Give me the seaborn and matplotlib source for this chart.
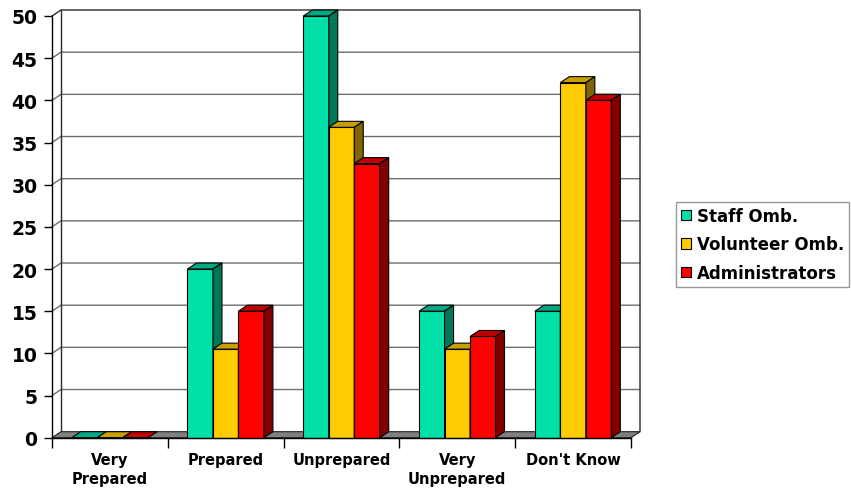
import numpy as np
import pandas as pd
import matplotlib
matplotlib.use("Agg")
import matplotlib.pyplot as plt
from matplotlib.patches import Polygon
from matplotlib.lines import Line2D
import seaborn as sns

# Survey responses (percent of each group)
categories = ["Very\nPrepared", "Prepared", "Unprepared", "Very\nUnprepared", "Don't Know"]
series = ["Staff Omb.", "Volunteer Omb.", "Administrators"]
staff = [0, 20, 50, 15, 15]
volunteer = [0, 10.5, 36.8, 10.5, 42.1]
administrators = [0, 15, 32.5, 12, 40]
y_ticks = list(range(0, 51, 5))

front_colors = ["#00E0A8", "#FFCC00", "#FF0000"]
top_colors = ["#00A884", "#C8A000", "#C00000"]
side_colors = ["#007858", "#806600", "#800000"]

df = pd.DataFrame({
    "category": categories * 3,
    "series": [s for s in series for _ in categories],
    "value": staff + volunteer + administrators,
})

sns.set_theme(style="white")
plt.rcParams["font.family"] = ["DejaVu Sans"]
plt.rcParams["text.color"] = "black"
plt.rcParams["xtick.color"] = "black"
plt.rcParams["ytick.color"] = "black"
plt.rcParams["xtick.labelcolor"] = "black"
plt.rcParams["ytick.labelcolor"] = "black"

W, H = 851, 489
fig = plt.figure(figsize=(W / 100, H / 100), dpi=100)
fig.patch.set_facecolor("white")
left, right, top, bottom = 52, 631, 17, 438.7
ax = fig.add_axes([left / W, 1 - bottom / H, (right - left) / W, (bottom - top) / H])
ax.set_facecolor("none")

sns.barplot(data=df, x="category", y="value", hue="series", order=categories,
            hue_order=series, palette=front_colors, saturation=1, width=0.66,
            edgecolor="black", linewidth=0.8, errorbar=None, ax=ax)

ax.set_xlim(-0.5, 4.5)
ax.set_ylim(0, 50)

# depth offset of the 3-D box, in data units
DX = 9 * 5 / (right - left)
DY = 6 * 50 / (bottom - top)
x_lo, x_hi = -0.5, 4.5

# back wall
ax.add_patch(Polygon([(x_lo + DX, DY), (x_hi + DX, DY), (x_hi + DX, 50 + DY), (x_lo + DX, 50 + DY)],
                     closed=True, facecolor="white", edgecolor="none", zorder=0.2, clip_on=False))
# gridlines on back wall and side wall
for v in y_ticks[1:-1]:
    ax.add_line(Line2D([x_lo, x_lo + DX, x_hi + DX], [v, v + DY, v + DY],
                       color="#6e6e6e", lw=1.0, zorder=0.4, clip_on=False))
# wall outline
ax.add_line(Line2D([x_lo, x_lo + DX, x_hi + DX, x_hi + DX], [50, 50 + DY, 50 + DY, DY],
                   color="#2a2a2a", lw=1.0, zorder=0.5, clip_on=False))
ax.add_line(Line2D([x_lo + DX, x_lo + DX], [DY, 50 + DY],
                   color="#2a2a2a", lw=1.0, zorder=0.5, clip_on=False))
# floor
ax.add_patch(Polygon([(x_lo, 0), (x_hi, 0), (x_hi + DX, DY), (x_lo + DX, DY)],
                     closed=True, facecolor="#808080", edgecolor="#202020", lw=0.8,
                     zorder=0.8, clip_on=False))

# 3-D faces of each bar, drawn left to right
for j, container in enumerate(ax.containers):
    for k, bar in enumerate(container):
        x0, w, h = bar.get_x(), bar.get_width(), bar.get_height()
        z = 2 + k * 10 + j * 3
        bar.set_zorder(z)
        bar.set_clip_on(False)
        ax.add_patch(Polygon([(x0, h), (x0 + w, h), (x0 + w + DX, h + DY), (x0 + DX, h + DY)],
                             closed=True, facecolor=top_colors[j], edgecolor="black", lw=0.8,
                             zorder=z + 1, clip_on=False))
        if h > 0:
            ax.add_patch(Polygon([(x0 + w, 0), (x0 + w, h), (x0 + w + DX, h + DY), (x0 + w + DX, DY)],
                                 closed=True, facecolor=side_colors[j], edgecolor="black", lw=0.8,
                                 zorder=z + 2, clip_on=False))

# axes
for s in ["top", "right"]:
    ax.spines[s].set_visible(False)
for s in ["left", "bottom"]:
    ax.spines[s].set_color("black")
    ax.spines[s].set_linewidth(1.0)
    ax.spines[s].set_zorder(100)

ax.set_yticks(y_ticks)
ax.set_yticklabels([str(t) for t in y_ticks], fontsize=13.5, fontweight="bold", color="black")
ax.tick_params(axis="y", left=True, length=6, width=1, color="black", pad=4.5)

ax.set_xticks(np.arange(-0.5, 5, 1))
ax.set_xticklabels([])
ax.set_xticks(range(len(categories)), labels=categories, minor=True)
ax.tick_params(axis="x", which="major", bottom=True, length=7, width=1, color="black")
ax.tick_params(axis="x", which="minor", bottom=True, length=0, pad=10, labelsize=10.5)
for lab in ax.get_xticklabels(minor=True):
    lab.set_fontweight("bold")
    lab.set_color("black")
    lab.set_linespacing(1.4)
ax.set_xlabel("")
ax.set_ylabel("")

handles, labels = ax.get_legend_handles_labels()
ax.get_legend().remove()
leg = fig.legend(handles, labels, loc="upper left", bbox_to_anchor=(676 / W, 1 - 203 / H),
                 frameon=True, fancybox=False, edgecolor="#808080",
                 prop=dict(weight="bold", size=12), handlelength=0.6, handleheight=0.6,
                 handletextpad=0.35, labelspacing=0.62, borderpad=0.3, borderaxespad=0)
leg.get_frame().set_linewidth(1.0)
for t in leg.get_texts():
    t.set_color("black")

fig.savefig("out.png", dpi=100, facecolor="white")
